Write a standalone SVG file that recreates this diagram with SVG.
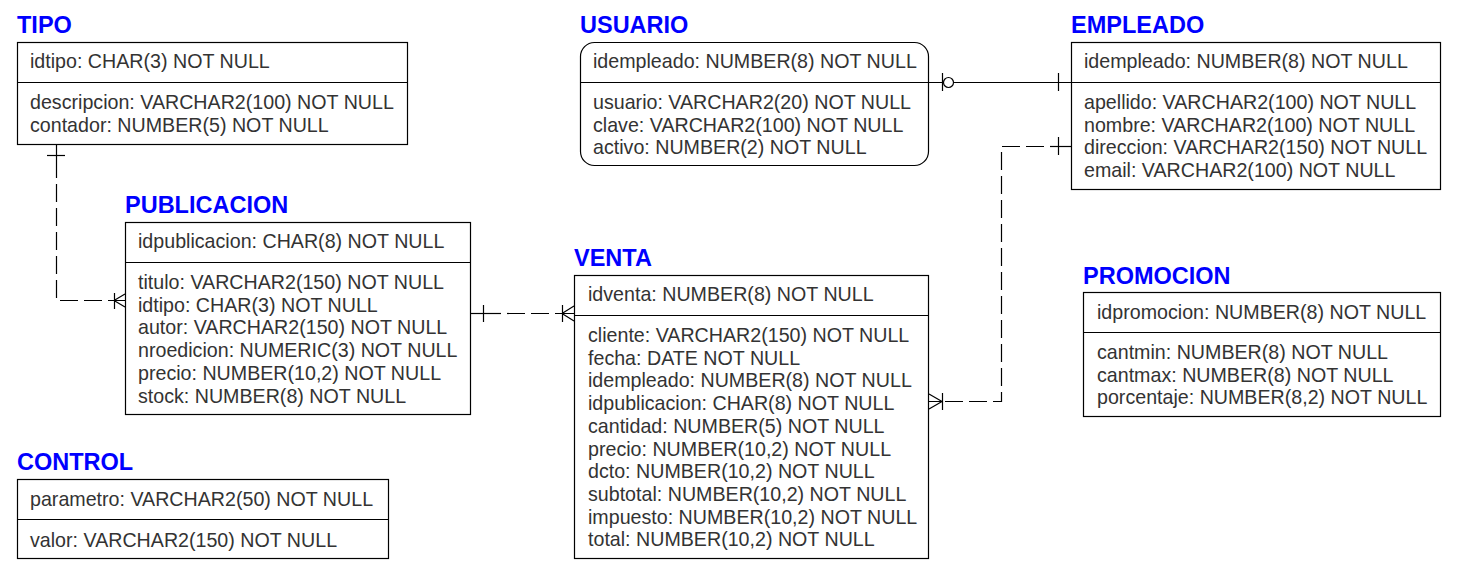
<svg xmlns="http://www.w3.org/2000/svg" width="1464" height="579" viewBox="0 0 1464 579">
<style>
.box{fill:#fff;stroke:#000;stroke-width:1.2}
.div{stroke:#000;stroke-width:1.2}
.t{font-family:"Liberation Sans",Arial,sans-serif;font-size:19.65px;fill:#333}
.ttl{font-family:"Liberation Sans",Arial,sans-serif;font-size:23.5px;font-weight:bold;fill:#0000ff}
.c{fill:none;stroke:#000;stroke-width:1.2}
.d{stroke-dasharray:18,6}
</style>
<rect width="1464" height="579" fill="#fff"/>
<g id="connectors">
  <!-- TIPO - PUBLICACION -->
  <path class="c" d="M56.5,144 V160"/>
  <path class="c d" d="M56.5,160 V300.5 H114"/>
  <path class="c" d="M47,155.5 H65"/>
  <path class="c" d="M114.5,293 V309 M114,300.5 L125,294 M114,300.5 H125 M114,300.5 L125,307"/>
  <!-- PUBLICACION - VENTA -->
  <path class="c" d="M471,313.5 H501"/>
  <path class="c d" d="M507,313.5 H562"/>
  <path class="c" d="M483.5,305 V322 M562.5,305 V322 M562,313.5 L574,306 M562,313.5 H574 M562,313.5 L574,321"/>
  <!-- USUARIO - EMPLEADO -->
  <path class="c" d="M928,82.5 H1071"/>
  <path class="c" d="M942.5,73 V91 M1058.5,73 V91"/>
  <circle cx="948.5" cy="82.5" r="5" fill="#fff" stroke="#000" stroke-width="1.2"/>
  <!-- EMPLEADO - VENTA -->
  <path class="c" d="M1071,146.5 H1050"/>
  <path class="c d" d="M1044,146.5 H1001.5 V401.5 H942"/>
  <path class="c" d="M1058.5,137 V155 M942.5,393 V410 M942,401.5 L929,394 M942,401.5 H929 M942,401.5 L929,409"/>
</g>
<g id="TIPO">
  <text class="ttl" x="17" y="32.5">TIPO</text>
  <rect class="box" x="17.5" y="42.5" width="390" height="102"/>
  <line class="div" x1="17.5" y1="82.5" x2="407.5" y2="82.5"/>
  <text class="t" x="30" y="68">idtipo: CHAR(3) NOT NULL</text>
  <text class="t" x="30" y="109">descripcion: VARCHAR2(100) NOT NULL</text>
  <text class="t" x="30" y="131.7">contador: NUMBER(5) NOT NULL</text>
</g>
<g id="USUARIO">
  <text class="ttl" x="580" y="32.5">USUARIO</text>
  <rect class="box" x="580.5" y="42.5" width="348" height="123" rx="14" ry="14"/>
  <line class="div" x1="580.5" y1="82.5" x2="928.5" y2="82.5"/>
  <text class="t" x="593" y="68">idempleado: NUMBER(8) NOT NULL</text>
  <text class="t" x="593" y="109">usuario: VARCHAR2(20) NOT NULL</text>
  <text class="t" x="593" y="131.7">clave: VARCHAR2(100) NOT NULL</text>
  <text class="t" x="593" y="154.4">activo: NUMBER(2) NOT NULL</text>
</g>
<g id="EMPLEADO">
  <text class="ttl" x="1071" y="32.5">EMPLEADO</text>
  <rect class="box" x="1071.5" y="42.5" width="369" height="147"/>
  <line class="div" x1="1071.5" y1="82.5" x2="1440.5" y2="82.5"/>
  <text class="t" x="1084" y="68">idempleado: NUMBER(8) NOT NULL</text>
  <text class="t" x="1084" y="109">apellido: VARCHAR2(100) NOT NULL</text>
  <text class="t" x="1084" y="131.7">nombre: VARCHAR2(100) NOT NULL</text>
  <text class="t" x="1084" y="154.4">direccion: VARCHAR2(150) NOT NULL</text>
  <text class="t" x="1084" y="177.1">email: VARCHAR2(100) NOT NULL</text>
</g>
<g id="PUBLICACION">
  <text class="ttl" x="125" y="212.5">PUBLICACION</text>
  <rect class="box" x="125.5" y="222.5" width="345" height="192"/>
  <line class="div" x1="125.5" y1="262.5" x2="470.5" y2="262.5"/>
  <text class="t" x="138" y="248">idpublicacion: CHAR(8) NOT NULL</text>
  <text class="t" x="138" y="289">titulo: VARCHAR2(150) NOT NULL</text>
  <text class="t" x="138" y="311.7">idtipo: CHAR(3) NOT NULL</text>
  <text class="t" x="138" y="334.4">autor: VARCHAR2(150) NOT NULL</text>
  <text class="t" x="138" y="357.1">nroedicion: NUMERIC(3) NOT NULL</text>
  <text class="t" x="138" y="379.8">precio: NUMBER(10,2) NOT NULL</text>
  <text class="t" x="138" y="402.5">stock: NUMBER(8) NOT NULL</text>
</g>
<g id="VENTA">
  <text class="ttl" x="574" y="265.5">VENTA</text>
  <rect class="box" x="574.5" y="275.5" width="354" height="283"/>
  <line class="div" x1="574.5" y1="315.5" x2="928.5" y2="315.5"/>
  <text class="t" x="588" y="301">idventa: NUMBER(8) NOT NULL</text>
  <text class="t" x="588" y="342">cliente: VARCHAR2(150) NOT NULL</text>
  <text class="t" x="588" y="364.7">fecha: DATE NOT NULL</text>
  <text class="t" x="588" y="387.4">idempleado: NUMBER(8) NOT NULL</text>
  <text class="t" x="588" y="410.1">idpublicacion: CHAR(8) NOT NULL</text>
  <text class="t" x="588" y="432.8">cantidad: NUMBER(5) NOT NULL</text>
  <text class="t" x="588" y="455.5">precio: NUMBER(10,2) NOT NULL</text>
  <text class="t" x="588" y="478.2">dcto: NUMBER(10,2) NOT NULL</text>
  <text class="t" x="588" y="500.9">subtotal: NUMBER(10,2) NOT NULL</text>
  <text class="t" x="588" y="523.6">impuesto: NUMBER(10,2) NOT NULL</text>
  <text class="t" x="588" y="546.3">total: NUMBER(10,2) NOT NULL</text>
</g>
<g id="PROMOCION">
  <text class="ttl" x="1083" y="283.5">PROMOCION</text>
  <rect class="box" x="1083.5" y="292.5" width="357" height="124"/>
  <line class="div" x1="1083.5" y1="332.5" x2="1440.5" y2="332.5"/>
  <text class="t" x="1097" y="319">idpromocion: NUMBER(8) NOT NULL</text>
  <text class="t" x="1097" y="359">cantmin: NUMBER(8) NOT NULL</text>
  <text class="t" x="1097" y="381.7">cantmax: NUMBER(8) NOT NULL</text>
  <text class="t" x="1097" y="404.4">porcentaje: NUMBER(8,2) NOT NULL</text>
</g>
<g id="CONTROL">
  <text class="ttl" x="17" y="470">CONTROL</text>
  <rect class="box" x="17.5" y="479.5" width="371" height="79"/>
  <line class="div" x1="17.5" y1="519.5" x2="388.5" y2="519.5"/>
  <text class="t" x="30" y="505.5">parametro: VARCHAR2(50) NOT NULL</text>
  <text class="t" x="30" y="546.5">valor: VARCHAR2(150) NOT NULL</text>
</g>
</svg>
